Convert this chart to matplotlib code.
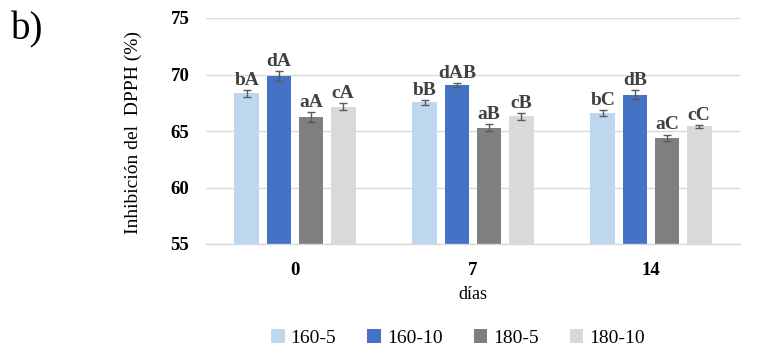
import matplotlib
matplotlib.use("Agg")
import matplotlib.pyplot as plt
import numpy as np

categories = ["0", "7", "14"]
series = ["160-5", "160-10", "180-5", "180-10"]
values = {
    "160-5": [68.35, 67.55, 66.6],
    "160-10": [69.85, 69.05, 68.2],
    "180-5": [66.25, 65.3, 64.4],
    "180-10": [67.15, 66.3, 65.4],
}
errors = {
    "160-5": [0.3, 0.22, 0.28],
    "160-10": [0.45, 0.2, 0.4],
    "180-5": [0.42, 0.33, 0.28],
    "180-10": [0.3, 0.3, 0.15],
}
letters = {
    "160-5": ["bA", "bB", "bC"],
    "160-10": ["dA", "dAB", "dB"],
    "180-5": ["aA", "aB", "aC"],
    "180-10": ["cA", "cB", "cC"],
}
colors = ["#bdd7ee", "#4472c4", "#7f7f7f", "#d9d9d9"]

plt.rcParams['font.family'] = ['Liberation Serif', 'DejaVu Serif']

fig = plt.figure(figsize=(7.8, 3.51), dpi=100)
ax = fig.add_axes([206/780, 1-244/351, 534/780, 226/351])

x = np.arange(len(categories))
slot = 0.18
bw = 0.14
for i, s in enumerate(series):
    pos = x + (i - 1.5) * slot
    ax.bar(pos, values[s], bw, color=colors[i], label=s, zorder=2)
    ax.errorbar(pos, values[s], yerr=errors[s], fmt='none', ecolor='#595959',
                elinewidth=1.0, capsize=3, capthick=1.0, zorder=3)
    for p, v, e, t in zip(pos, values[s], errors[s], letters[s]):
        ax.text(p, v + e + 0.1, t, ha='center', va='bottom', fontsize=14,
                fontweight='bold', color='#404040')

ax.set_ylim(55, 75)
ax.set_xlim(-0.5, 2.5)
ax.set_yticks([55, 60, 65, 70, 75])
ax.set_xticks(x)
ax.set_xticklabels(categories)
ax.tick_params(axis='both', length=0, labelsize=13.5)
ax.tick_params(axis='y', pad=12)
ax.tick_params(axis='x', pad=13)
for lab in ax.get_xticklabels() + ax.get_yticklabels():
    lab.set_fontweight('bold')
ax.yaxis.grid(True, color='#d9d9d9', linewidth=1.0, zorder=0)
ax.set_axisbelow(True)
for sp in ['top', 'right', 'left']:
    ax.spines[sp].set_visible(False)
ax.spines['bottom'].set_color('#d9d9d9')
ax.spines['bottom'].set_linewidth(1.0)

ax.set_xlabel("días", fontsize=13, labelpad=5)
fig.text(133/780, 1-132/351, "Inhibición del  DPPH (%)", rotation=90,
         ha='center', va='center', fontsize=14)
fig.text(11/780, 1-30/351, "b)", fontsize=28, ha='left', va='center')

handles, labels = ax.get_legend_handles_labels()
fig.legend(handles, labels, loc='center', bbox_to_anchor=(458/780, 1-338/351),
           ncol=4, frameon=False, fontsize=14, handlelength=0.7, handleheight=0.7,
           handletextpad=0.3, columnspacing=1.6)

fig.savefig("out.png", dpi=100)
